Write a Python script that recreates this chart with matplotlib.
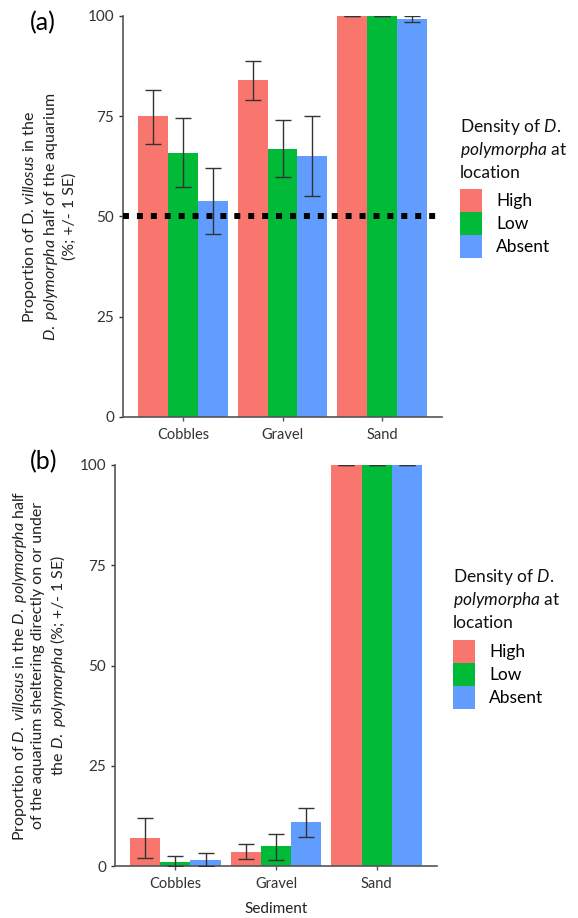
import numpy as np
import matplotlib
matplotlib.use("Agg")
import matplotlib.pyplot as plt
from matplotlib.patches import Patch

plt.rcParams['font.family'] = ['Lato', 'DejaVu Sans']
plt.rcParams['mathtext.fontset'] = 'custom'
plt.rcParams['mathtext.rm'] = 'Lato'
plt.rcParams['mathtext.it'] = 'Lato:italic'
plt.rcParams['mathtext.bf'] = 'Lato:bold'

sediments = ['Cobbles', 'Gravel', 'Sand']
densities = ['High', 'Low', 'Absent']
colors = ['#F8766D', '#00BA38', '#619CFF']

# panel (a): proportion in the D. polymorpha half
a_high = [75.0, 84.0, 100.0]
a_low = [65.8, 66.8, 100.0]
a_absent = [53.9, 65.0, 99.2]
a_high_lo = [68.0, 79.0, 100.0]
a_high_hi = [81.5, 88.8, 100.0]
a_low_lo = [57.4, 59.9, 100.0]
a_low_hi = [74.6, 74.0, 100.0]
a_absent_lo = [45.6, 55.0, 98.4]
a_absent_hi = [62.0, 75.0, 100.0]

# panel (b): proportion sheltering on or under D. polymorpha
b_high = [7.0, 3.6, 100.0]
b_low = [1.1, 5.0, 100.0]
b_absent = [1.6, 11.0, 100.0]
b_high_lo = [2.0, 1.8, 100.0]
b_high_hi = [12.0, 5.5, 100.0]
b_low_lo = [0.0, 1.6, 100.0]
b_low_hi = [2.5, 8.0, 100.0]
b_absent_lo = [0.0, 7.3, 100.0]
b_absent_hi = [3.3, 14.5, 100.0]

yticks = [0, 25, 50, 75, 100]
legend_title = ["Density of $\\mathit{D.}$", "$\\mathit{polymorpha}$ at", "location"]

W, H = 578, 918
fig = plt.figure(figsize=(W / 100, H / 100), dpi=100)
ax1 = fig.add_axes([0.2128, 0.5458, 0.552, 0.4368])
ax2 = fig.add_axes([0.199, 0.0566, 0.557, 0.4369])

x = np.arange(len(sediments))
w = 0.3


def draw(ax, vals, los, his):
    for i, (v, lo, hi) in enumerate(zip(vals, los, his)):
        v = np.array(v)
        err = np.vstack([v - np.array(lo), np.array(hi) - v])
        pos = x + (i - 1) * w
        ax.bar(pos, v, width=w, color=colors[i], zorder=2)
        ax.errorbar(pos, v, yerr=err, fmt='none', ecolor='#333333',
                    elinewidth=1.0, capsize=6, capthick=1.0, zorder=3)
    ax.set_xlim(-0.6, 2.6)
    ax.set_ylim(0, 100)
    ax.set_yticks(yticks)
    ax.set_xticks(x)
    ax.set_xticklabels(sediments, fontsize=10.5, color='#333333')
    ax.tick_params(axis='y', labelsize=11, colors='#333333', length=3, width=1)
    ax.tick_params(axis='x', length=3, width=1, pad=5, colors='#555555',
                   labelcolor='#333333')
    for s in ['top', 'right']:
        ax.spines[s].set_visible(False)
    for s in ['left', 'bottom']:
        ax.spines[s].set_color('#555555')
        ax.spines[s].set_linewidth(1.2)


draw(ax1, [a_high, a_low, a_absent], [a_high_lo, a_low_lo, a_absent_lo],
     [a_high_hi, a_low_hi, a_absent_hi])
ax1.axhline(50, color='black', lw=4.3, linestyle=(0, (1, 1.33)), zorder=4)
draw(ax2, [b_high, b_low, b_absent], [b_high_lo, b_low_lo, b_absent_lo],
     [b_high_hi, b_low_hi, b_absent_hi])

ax1.set_ylabel("Proportion of D. $\\mathit{villosus}$ in the\n"
               "$\\mathit{D.\\ polymorpha}$ half of the aquarium\n"
               "(%; +/- 1 SE)", fontsize=11.5, color='#222222',
               linespacing=1.2, labelpad=8)
ax2.set_ylabel("Proportion of $\\mathit{D.\\ villosus}$ in the $\\mathit{D.\\ polymorpha}$ half\n"
               "of the aquarium sheltering directly on or under\n"
               "the $\\mathit{D.\\ polymorpha}$ (%; +/- 1 SE)", fontsize=11.5,
               color='#222222', linespacing=1.2, labelpad=8)
ax2.set_xlabel('Sediment', fontsize=11, color='#222222', labelpad=8)

fig.text(0.052, 0.975, '(a)', fontsize=18, ha='left', va='center')
fig.text(0.052, 0.497, '(b)', fontsize=18, ha='left', va='center')

handles = [Patch(facecolor=c) for c in colors]
# legend blocks: (title left x, first baseline y, patch top y) in pixels
for lx, base, ptop in [(460, 132, 189), (453, 582, 640)]:
    for k, line in enumerate(legend_title):
        fig.text(lx / W, 1 - (base + 23 * k) / H, line, fontsize=12.5,
                 ha='left', va='baseline', color='#111111')
    fig.legend(handles, densities, loc='upper left',
               bbox_to_anchor=(lx / W, 1 - ptop / H),
               frameon=False, fontsize=12.5, handlelength=1.27,
               handleheight=1.66, labelspacing=0.0, handletextpad=0.8,
               borderpad=0, borderaxespad=0)

fig.savefig('out.png', dpi=100)
